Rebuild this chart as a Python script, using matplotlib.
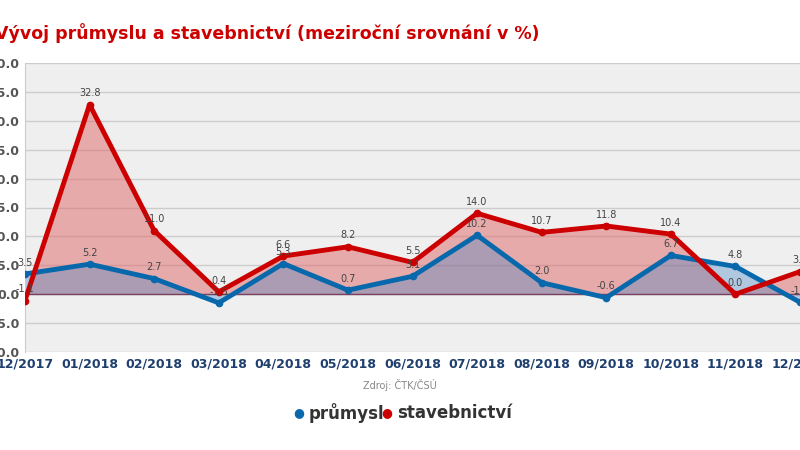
import matplotlib
matplotlib.use("Agg")
import matplotlib.pyplot as plt

months = ["12/2017","01/2018","02/2018","03/2018","04/2018","05/2018","06/2018",
          "07/2018","08/2018","09/2018","10/2018","11/2018","12/2018"]
prumysl = [3.5,5.2,2.7,-1.5,5.3,0.7,3.1,10.2,2.0,-0.6,6.7,4.8,-1.4]
stavebnictvi = [-1.1,32.8,11.0,0.4,6.6,8.2,5.5,14.0,10.7,11.8,10.4,0.0,3.9]
yticks = [-10,-5,0,5,10,15,20,25,30,35,40]

fig = plt.figure(figsize=(8,4.5), dpi=100)
ax = fig.add_axes([25/800, 1-352/450, 1-25/800, (352-63)/450])
ax.set_facecolor("#efefef")
x = list(range(len(months)))
red = "#cc0000"; blue = "#0868ac"
ax.fill_between(x, stavebnictvi, 0, color="#e06666", alpha=0.5, lw=0, zorder=2)
ax.fill_between(x, prumysl, 0, color="#3b7fc4", alpha=0.35, lw=0, zorder=2)
ax.plot(x, stavebnictvi, color=red, lw=3.5, marker="o", ms=4.5, zorder=4)
ax.plot(x, prumysl, color=blue, lw=3.5, marker="o", ms=4.5, zorder=3)
for i in x:
    ax.annotate(f"{stavebnictvi[i]:.1f}", (i, stavebnictvi[i]), xytext=(0,6), textcoords="offset points",
                ha="center", fontsize=7, color="#444444", zorder=5)
    ax.annotate(f"{prumysl[i]:.1f}", (i, prumysl[i]), xytext=(0,6), textcoords="offset points",
                ha="center", fontsize=7, color="#444444", zorder=5)
ax.axhline(0, color="#7a4060", lw=1, zorder=2)
ax.set_xlim(0, 12)
ax.set_ylim(-10, 40)
ax.set_yticks(yticks)
ax.set_yticklabels([f"{v:.1f}" for v in yticks], fontsize=9, color="#555555", fontweight="bold")
ax.set_xticks(x)
ax.set_xticklabels(months, fontsize=9, color="#1f3f6f", fontweight="bold")
ax.tick_params(length=0, pad=4)
ax.grid(axis="y", color="#cccccc", lw=1, zorder=1)
for s in ax.spines.values():
    s.set_visible(False)
ax.spines["left"].set_visible(True); ax.spines["left"].set_color("#cccccc")

fig.text(-5/800, 1-33/450, "Vývoj průmyslu a stavebnictví (meziroční srovnání v %)", fontsize=12.5,
         fontweight="bold", color=red, va="center", ha="left")
fig.text(400/800, 1-385/450, "Zdroj: ČTK/ČSÚ", fontsize=7, color="#888888", ha="center", va="center")
fig.text(304/800, 1-413/450, "●", color=blue, fontsize=9, ha="right", va="center")
fig.text(309/800, 1-413/450, "průmysl", color="#333333", fontsize=12, fontweight="bold", ha="left", va="center")
fig.text(392/800, 1-413/450, "●", color=red, fontsize=9, ha="right", va="center")
fig.text(397/800, 1-413/450, "stavebnictví", color="#333333", fontsize=12, fontweight="bold", ha="left", va="center")
fig.savefig("out.png", dpi=100)
